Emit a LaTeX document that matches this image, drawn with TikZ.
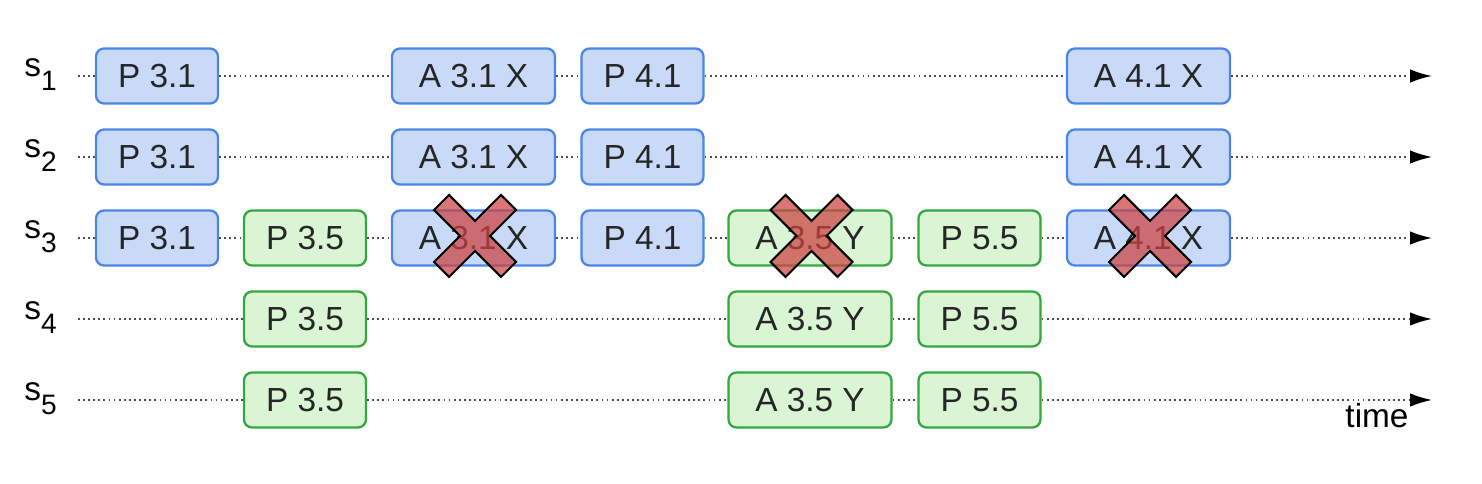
\documentclass[tikz,border=0pt]{standalone}
\usepackage{fontspec}
\setmainfont{Liberation Sans}
\usepackage{xcolor}
\usetikzlibrary{arrows.meta}

\definecolor{bluefill}{RGB}{201,218,248}
\definecolor{blueline}{RGB}{74,134,232}
\definecolor{greenfill}{RGB}{217,245,211}
\definecolor{greenline}{RGB}{52,168,60}
\definecolor{crossred}{RGB}{204,65,65}

\newcommand{\lsub}[1]{\raisebox{-0.28cm}{\fontsize{16}{16}\selectfont #1}}

\tikzset{
	msg/.style={rounded corners=0.16cm, line width=1.3pt, minimum height=1.1cm, inner sep=0pt, font=\fontsize{19}{22}\selectfont, text=black!85},
	bmsg/.style={msg, draw=blueline, fill=bluefill},
	gmsg/.style={msg, draw=greenline, fill=greenfill},
	prop/.style={minimum width=2.44cm},
	acc/.style={minimum width=3.26cm},
	tlseg/.style={line width=1pt, black!70, dash pattern=on 1pt off 1.9pt},
	tl/.style={tlseg, -{Latex[length=0.44cm,width=0.27cm,color=black]}},
	lbl/.style={anchor=base, inner sep=0pt, font=\fontsize{19}{22}\selectfont},
	veto/.style={draw=black, line width=1.2pt, line join=miter, fill=crossred, fill opacity=0.72}
}

\begin{document}
\begin{tikzpicture}
	\useasboundingbox (0,0) rectangle (29.64,9.68);

	% server labels
	\node[lbl] (s1) at (0.81,8.14) {s\lsub{1}};
	\node[lbl] (s2) at (0.81,6.52) {s\lsub{2}};
	\node[lbl] (s3) at (0.81,4.90) {s\lsub{3}};
	\node[lbl] (s4) at (0.81,3.28) {s\lsub{4}};
	\node[lbl] (s5) at (0.81,1.66) {s\lsub{5}};

	% s1
	\coordinate (s1l) at (1.56,8.16);
	\coordinate (s1r) at (28.64,8.16);
	\node[bmsg,prop] (s1p31) at (3.14,8.16) {P 3.1};
	\node[bmsg,acc] (s1a31) at (9.47,8.16) {A 3.1 X};
	\node[bmsg,prop] (s1p41) at (12.85,8.16) {P 4.1};
	\node[bmsg,acc] (s1a41) at (22.97,8.16) {A 4.1 X};
	\draw[tlseg] (s1l) -- (s1p31) (s1p31) -- (s1a31) (s1a31) -- (s1p41) (s1p41) -- (s1a41);
	\draw[tl] (s1a41) -- (s1r);

	% s2
	\coordinate (s2l) at (1.56,6.54);
	\coordinate (s2r) at (28.64,6.54);
	\node[bmsg,prop] (s2p31) at (3.14,6.54) {P 3.1};
	\node[bmsg,acc] (s2a31) at (9.47,6.54) {A 3.1 X};
	\node[bmsg,prop] (s2p41) at (12.85,6.54) {P 4.1};
	\node[bmsg,acc] (s2a41) at (22.97,6.54) {A 4.1 X};
	\draw[tlseg] (s2l) -- (s2p31) (s2p31) -- (s2a31) (s2a31) -- (s2p41) (s2p41) -- (s2a41);
	\draw[tl] (s2a41) -- (s2r);

	% s3
	\coordinate (s3l) at (1.56,4.92);
	\coordinate (s3r) at (28.64,4.92);
	\node[bmsg,prop] (s3p31) at (3.14,4.92) {P 3.1};
	\node[gmsg,prop] (s3p35) at (6.10,4.92) {P 3.5};
	\node[bmsg,acc] (s3a31) at (9.47,4.92) {A 3.1 X};
	\node[bmsg,prop] (s3p41) at (12.85,4.92) {P 4.1};
	\node[gmsg,acc] (s3a35) at (16.20,4.92) {A 3.5 Y};
	\node[gmsg,prop] (s3p55) at (19.59,4.92) {P 5.5};
	\node[bmsg,acc] (s3a41) at (22.97,4.92) {A 4.1 X};
	\draw[tlseg] (s3l) -- (s3p31) (s3p31) -- (s3p35) (s3p35) -- (s3a31) (s3a31) -- (s3p41)
		(s3p41) -- (s3a35) (s3a35) -- (s3p55) (s3p55) -- (s3a41);
	\draw[tl] (s3a41) -- (s3r);

	% s4
	\coordinate (s4l) at (1.56,3.30);
	\coordinate (s4r) at (28.64,3.30);
	\node[gmsg,prop] (s4p35) at (6.10,3.30) {P 3.5};
	\node[gmsg,acc] (s4a35) at (16.20,3.30) {A 3.5 Y};
	\node[gmsg,prop] (s4p55) at (19.59,3.30) {P 5.5};
	\draw[tlseg] (s4l) -- (s4p35) (s4p35) -- (s4a35) (s4a35) -- (s4p55);
	\draw[tl] (s4p55) -- (s4r);

	% s5
	\coordinate (s5l) at (1.56,1.68);
	\coordinate (s5r) at (28.64,1.68);
	\node[gmsg,prop] (s5p35) at (6.10,1.68) {P 3.5};
	\node[gmsg,acc] (s5a35) at (16.20,1.68) {A 3.5 Y};
	\node[gmsg,prop] (s5p55) at (19.59,1.68) {P 5.5};
	\draw[tlseg] (s5l) -- (s5p35) (s5p35) -- (s5a35) (s5a35) -- (s5p55);
	\draw[tl] (s5p55) -- (s5r);

	\node[lbl] (time) at (27.54,1.12) {time};

	% rejected accepts on s3
	\foreach \b in {s3a31,s3a35,s3a41}
		\draw[veto, shift={(\b.center)}, shift={(0.03,0.04)}]
			(-0.82,0.52) -- (-0.52,0.82) -- (0,0.3) -- (0.52,0.82) -- (0.82,0.52) -- (0.3,0)
			-- (0.82,-0.52) -- (0.52,-0.82) -- (0,-0.3) -- (-0.52,-0.82) -- (-0.82,-0.52) -- (-0.3,0) -- cycle;

\end{tikzpicture}
\end{document}
